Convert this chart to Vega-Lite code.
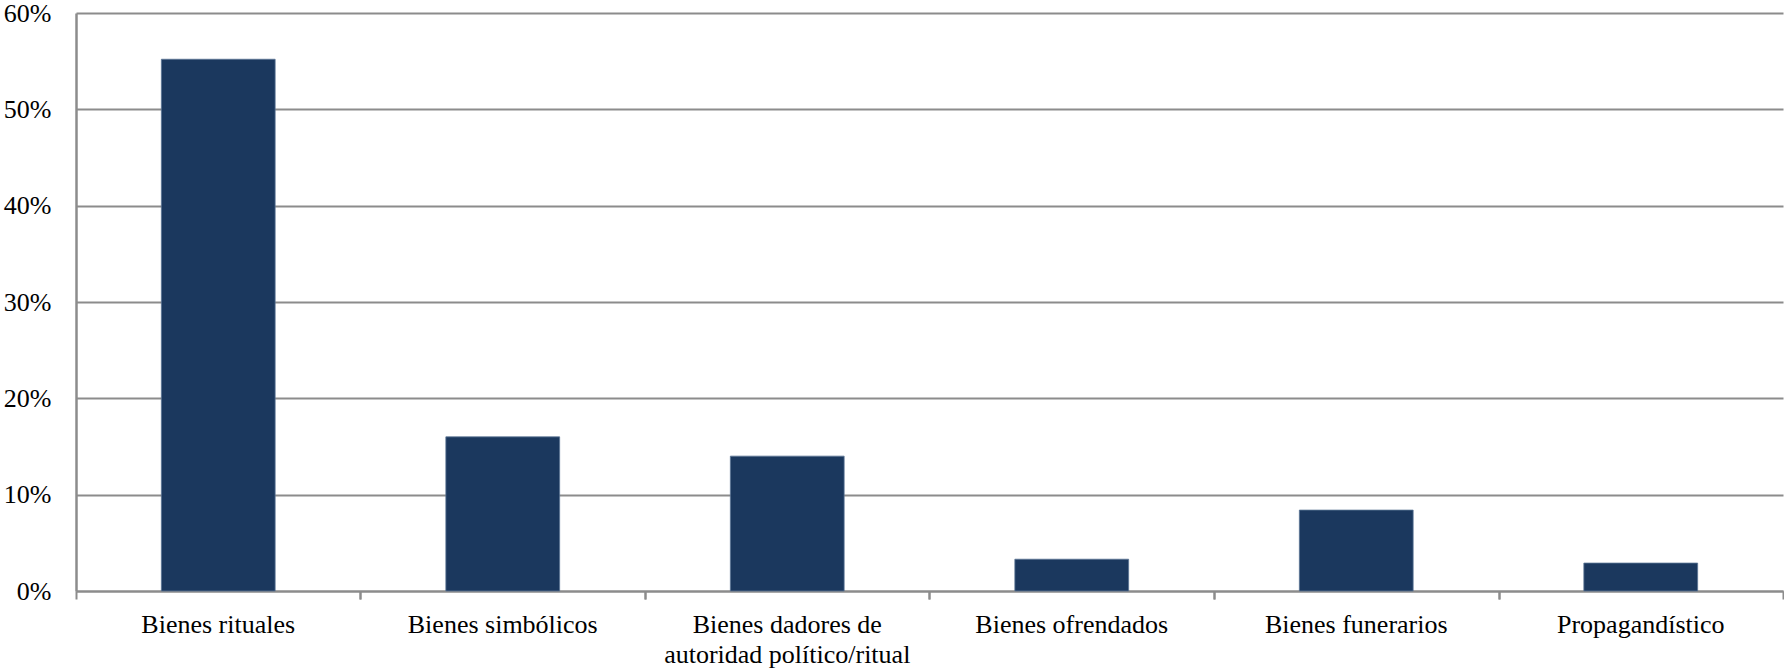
{
  "$schema": "https://vega.github.io/schema/vega-lite/v6.json",
  "autosize": "none",
  "width": 1707,
  "height": 578,
  "padding": {"left": 76, "top": 13, "right": 1, "bottom": 79},
  "background": "white",
  "config": {"view": {"stroke": null}, "font": "Liberation Serif"},
  "data": {
    "values": [
      {"categoria": "Bienes rituales", "valor": 0.552},
      {"categoria": "Bienes simbólicos", "valor": 0.160},
      {"categoria": "Bienes dadores de autoridad político/ritual", "valor": 0.140},
      {"categoria": "Bienes ofrendados", "valor": 0.033},
      {"categoria": "Bienes funerarios", "valor": 0.084},
      {"categoria": "Propagandístico", "valor": 0.029}
    ]
  },
  "resolve": {"axis": {"x": "independent"}},
  "layer": [
    {
      "mark": {"type": "bar", "color": "#1b385e", "stroke": "#5a7594", "strokeWidth": 0.8},
      "encoding": {
        "x": {
          "field": "categoria",
          "type": "nominal",
          "sort": null,
          "scale": {"paddingInner": 0.6, "paddingOuter": 0.3},
          "axis": {
            "orient": "bottom",
            "title": null,
            "labelAngle": 0,
            "labelFont": "Liberation Serif",
            "labelFontSize": 26,
            "labelColor": "#000000",
            "labelPadding": 20,
            "labelLineHeight": 30,
            "labelLimit": 0,
            "labelExpr": "datum.label == 'Bienes dadores de autoridad político/ritual' ? ['Bienes dadores de', 'autoridad político/ritual'] : datum.label",
            "domainColor": "#8c8c8c",
            "domainWidth": 2.2,
            "ticks": false,
            "grid": false
          }
        },
        "y": {
          "field": "valor",
          "type": "quantitative",
          "scale": {"domain": [0, 0.6], "nice": false},
          "axis": {
            "title": null,
            "format": ".0%",
            "values": [0, 0.1, 0.2, 0.3, 0.4, 0.5, 0.6],
            "labelFont": "Liberation Serif",
            "labelFontSize": 26,
            "labelColor": "#000000",
            "labelPadding": 25,
            "ticks": false,
            "domainColor": "#8c8c8c",
            "domainWidth": 2.5,
            "grid": true,
            "gridColor": "#8c8c8c",
            "gridWidth": 1.8
          }
        }
      }
    },
    {
      "mark": {"type": "bar", "opacity": 0},
      "encoding": {
        "x": {
          "field": "categoria",
          "type": "nominal",
          "sort": null,
          "axis": {
            "orient": "bottom",
            "title": null,
            "labels": false,
            "domain": false,
            "tickColor": "#8c8c8c",
            "tickWidth": 2,
            "tickSize": 8,
            "tickOffset": 142.25,
            "grid": false
          }
        },
        "y": {"field": "valor", "type": "quantitative"}
      }
    },
    {
      "mark": {"type": "bar", "opacity": 0},
      "encoding": {
        "x": {
          "field": "categoria",
          "type": "nominal",
          "sort": null,
          "axis": {
            "orient": "bottom",
            "title": null,
            "labels": false,
            "domain": false,
            "tickColor": "#8c8c8c",
            "tickWidth": 2,
            "tickSize": 8,
            "tickOffset": -142.25,
            "grid": false
          }
        },
        "y": {"field": "valor", "type": "quantitative"}
      }
    }
  ]
}
